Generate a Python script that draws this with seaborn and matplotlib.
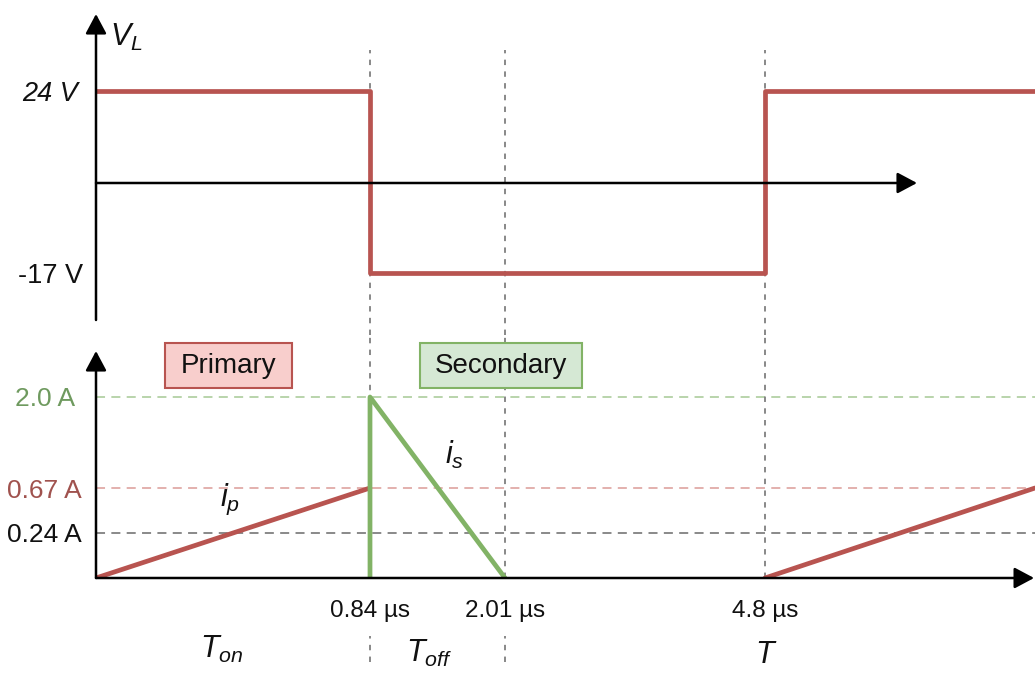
import numpy as np
import pandas as pd
import matplotlib
matplotlib.use("Agg")
import matplotlib.pyplot as plt
from matplotlib.patches import Rectangle
import seaborn as sns

# ---------------- data ----------------
t_marks = [0.84, 2.01, 4.8]                     # µs
t_labels = ["0.84 µs", "2.01 µs", "4.8 µs"]
t_end = 5.64                                    # end of drawn window (T + Ton)

vl_t = [0, 0.84, 0.84, 4.8, 4.8, 5.64]          # inductor voltage
vl_v = [24, 24, -17, -17, 24, 24]
v_ticks = [24, -17]
v_tick_labels = ["24 V", "-17 V"]

ip_t = [0, 0.84, 4.8, 5.64]                     # primary current
ip_a = [0, 0.67, 0, 0.67]
ip_seg = [0, 0, 1, 1]

is_t = [0.84, 0.84, 2.01]                       # secondary current
is_a = [0, 2.0, 0]

i_levels = [2.0, 0.67, 0.24]
i_labels = ["2.0 A", "0.67 A", "0.24 A"]

# ---------------- style ----------------
W, H = 1035, 673
RED = "#b85450"
GREEN = "#82b366"
GREY = "#7f7f7f"
INK = "#111111"
LBL_COLORS = ["#6f9a5f", "#a0524e", INK]
DASH_COLORS = ["#b3d1a5", "#e0aaa7", "#808080"]

sns.set_theme(style="white")
plt.rcParams["font.family"] = ["Liberation Sans", "DejaVu Sans"]
plt.rcParams["mathtext.fontset"] = "custom"
plt.rcParams["mathtext.it"] = "Liberation Sans:italic"
plt.rcParams["mathtext.rm"] = "Liberation Sans"
plt.rcParams["mathtext.sf"] = "Liberation Sans"
plt.rcParams["text.color"] = INK
plt.rcParams["xtick.color"] = INK
plt.rcParams["ytick.color"] = INK


def piecewise(vals, pos):
    """Schematic (not-to-scale) axis: piecewise-linear mapping value -> position."""
    kv = np.asarray(vals, float)
    kp = np.asarray(pos, float)
    s0 = (kp[1] - kp[0]) / (kv[1] - kv[0])
    s1 = (kp[-1] - kp[-2]) / (kv[-1] - kv[-2])
    big = 1e4
    kv = np.r_[kv[0] - big, kv, kv[-1] + big]
    kp = np.r_[kp[0] - big * s0, kp, kp[-1] + big * s1]
    return (lambda x: np.interp(x, kv, kp)), (lambda y: np.interp(y, kp, kv))


# schematic scale anchors (pixel layout of the diagram)
fx_fwd, fx_inv = piecewise([0, 0.84, 2.01, 4.8, 5.64], [96, 370, 505, 765, 1035])
fv_fwd, fv_inv = piecewise([-17, 0, 24], [-273, -183, -91])
fi_fwd, fi_inv = piecewise([0, 0.24, 0.67, 2.0], [-578, -533, -488, -397])

fig = plt.figure(figsize=(W / 100, H / 100), dpi=100)
ax_top = fig.add_axes([96 / W, (H - 335) / H, (W - 96) / W, 335 / H])
ax_bot = fig.add_axes([96 / W, (H - 578) / H, (W - 96) / W, (578 - 335) / H])

# ---------------- traces ----------------
sns.lineplot(x=vl_t, y=vl_v, sort=False, estimator=None, color=RED, lw=3.4,
             ax=ax_top, zorder=3, legend=False)
sns.lineplot(x=ip_t, y=ip_a, units=ip_seg, sort=False, estimator=None, color=RED,
             lw=3.4, ax=ax_bot, zorder=3, legend=False)
sns.lineplot(x=is_t, y=is_a, sort=False, estimator=None, color=GREEN, lw=3.4,
             ax=ax_bot, zorder=4, legend=False)

for ax in (ax_top, ax_bot):
    ax.set_xscale("function", functions=(fx_fwd, fx_inv))
    ax.set_xlim(0, t_end)
    ax.set_facecolor("none")
    for s in ax.spines.values():
        s.set_visible(False)
    ax.set_xlabel("")
    ax.set_ylabel("")
    ax.tick_params(length=0)

ax_top.set_yscale("function", functions=(fv_fwd, fv_inv))
ax_top.set_ylim(fv_inv(-335), fv_inv(0))
ax_bot.set_yscale("function", functions=(fi_fwd, fi_inv))
ax_bot.set_ylim(0, fi_inv(-335))

# ticks
ax_top.set_xticks([])
ax_top.set_yticks(v_ticks, labels=v_tick_labels, fontsize=19.5)
ax_top.get_yticklabels()[0].set_style("italic")
for lab in ax_top.get_yticklabels():
    lab.set_ha("center")
    lab.set_color(INK)
ax_top.tick_params(axis="y", pad=33)

ax_bot.set_xticks(t_marks, labels=t_labels, fontsize=17.5)
for lab in ax_bot.get_xticklabels():
    lab.set_color(INK)
ax_bot.tick_params(axis="x", pad=16)
ax_bot.set_yticks(i_levels, labels=i_labels, fontsize=19)
for lab, c in zip(ax_bot.get_yticklabels(), LBL_COLORS):
    lab.set_ha("center")
    lab.set_color(c)
ax_bot.tick_params(axis="y", pad=37)

# guide lines
for lvl, c in zip(i_levels, DASH_COLORS):
    ax_bot.axhline(lvl, color=c, lw=1.3, dashes=(5, 3.5), zorder=1)
for t in t_marks:
    ax_top.axvline(t, ymin=0, ymax=(335 - 50) / 335, color=GREY, lw=1.3,
                   dashes=(3, 3.5), zorder=1)
    ax_bot.axvline(t, ymin=0, ymax=1, color=GREY, lw=1.3, dashes=(3, 3.5), zorder=1)
for t in t_marks[:2]:
    ax_bot.axvline(t, ymin=(578 - 662) / 243, ymax=(578 - 636) / 243, color=GREY,
                   lw=1.3, dashes=(3, 3.5), zorder=1, clip_on=False)

# axis arrows
ap = dict(arrowstyle="-|>,head_length=0.6,head_width=0.32", mutation_scale=20,
          lw=1.8, color="black", shrinkA=0, shrinkB=0)
ax_top.annotate("", xy=(0, (335 - 14) / 335), xytext=(0, (335 - 320) / 335),
                xycoords=("data", "axes fraction"), textcoords=("data", "axes fraction"),
                arrowprops=ap, zorder=5)
ax_top.annotate("", xy=((917 - 96) / (W - 96), 0), xytext=(0, 0),
                xycoords=("axes fraction", "data"), textcoords=("axes fraction", "data"),
                arrowprops=ap, zorder=5)
ax_bot.annotate("", xy=(0, (578 - 351) / 243), xytext=(0, 0),
                xycoords=("data", "axes fraction"), textcoords=("data", "axes fraction"),
                arrowprops=ap, zorder=5)
ax_bot.annotate("", xy=(0.999, 0), xytext=(0, 0),
                xycoords=("axes fraction", "data"), textcoords=("axes fraction", "data"),
                arrowprops=ap, zorder=5)


def fx(px):
    return px / W


def fy(py):
    return 1 - py / H


# boxes
fig.add_artist(Rectangle((fx(165), fy(388)), (292 - 165) / W, 45 / H,
                         transform=fig.transFigure, facecolor="#f8cecc",
                         edgecolor=RED, lw=1.5))
fig.text(fx(228.5), fy(366), "Primary", ha="center", va="center", fontsize=20,
         color=INK)
fig.add_artist(Rectangle((fx(420), fy(388)), (582 - 420) / W, 45 / H,
                         transform=fig.transFigure, facecolor="#d5e8d4",
                         edgecolor=GREEN, lw=1.5))
fig.text(fx(501), fy(366), "Secondary", ha="center", va="center", fontsize=20,
         color=INK)

# labels
fig.text(fx(110), fy(46), r"$V_L$", ha="left", va="baseline", fontsize=22, color=INK)
fig.text(fx(220), fy(506), r"$i_p$", ha="left", va="baseline", fontsize=22, color=INK)
fig.text(fx(445), fy(464), r"$i_s$", ha="left", va="baseline", fontsize=22, color=INK)
fig.text(fx(200), fy(658), r"$T_{on}$", ha="left", va="baseline", fontsize=22, color=INK)
fig.text(fx(406), fy(662), r"$T_{off}$", ha="left", va="baseline", fontsize=22, color=INK)
fig.text(fx(755), fy(663), r"$T$", ha="left", va="baseline", fontsize=22, color=INK)

fig.savefig("out.png", dpi=100)
